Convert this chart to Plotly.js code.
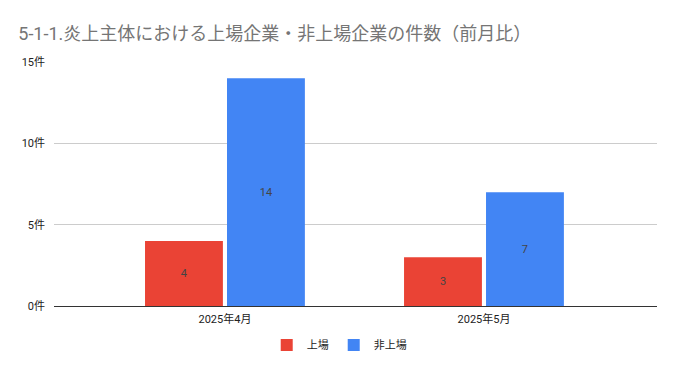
<!DOCTYPE html>
<html><head><meta charset="utf-8">
<script src="https://cdn.plot.ly/plotly-3.0.1.min.js"></script>
<style>body{margin:0;background:#fff}#c{width:677px;height:371px}</style>
</head><body><div id="c"></div>
<script>
const categories = ["2025年4月", "2025年5月"];
const listed = [4, 3];
const unlisted = [14, 7];
const seriesNames = ["上場", "非上場"];
const yTicks = [0, 5, 10, 15];
const yTickText = ["0件", "5件", "10件", "15件"];

const font = "Roboto, 'Noto Sans CJK JP', sans-serif";
const traces = [
  {type: "bar", name: seriesNames[0], x: categories, y: listed, marker: {color: "#EA4335"},
   text: listed.map(String), textposition: "inside", insidetextanchor: "middle",
   textfont: {color: "#444", size: 11, family: font}, hoverinfo: "none"},
  {type: "bar", name: seriesNames[1], x: categories, y: unlisted, marker: {color: "#4285F4"},
   text: unlisted.map(String), textposition: "inside", insidetextanchor: "middle",
   textfont: {color: "#444", size: 11, family: font}, hoverinfo: "none"}
];
const layout = {
  width: 677, height: 371,
  margin: {l: 54, r: 20, t: 62, b: 65},
  paper_bgcolor: "#fff", plot_bgcolor: "#fff",
  font: {family: font, color: "#222", size: 11},
  title: {text: "5-1-1.炎上主体における上場企業・非上場企業の件数（前月比）",
          font: {size: 18, color: "#757575", family: font}, x: 0.027, xanchor: "left", y: 0.91, yanchor: "middle"},
  barmode: "group", bargap: 0.367, bargroupgap: 0.05,
  xaxis: {type: "category", range: [-0.66, 1.668], showgrid: false, showline: false, ticks: "",
          tickfont: {size: 11, color: "#222"}, ticklabelstandoff: 5, fixedrange: true},
  yaxis: {range: [0, 15], tickmode: "array", tickvals: yTicks, ticktext: yTickText, showgrid: true, gridcolor: "#cccccc",
          zeroline: true, zerolinecolor: "#333", zerolinewidth: 1, showline: false, ticks: "",
          tickfont: {size: 11, color: "#222"}, ticklabelstandoff: 8},
  showlegend: true,
  legend: {orientation: "h", x: 0.473, xanchor: "center", y: -0.16, yanchor: "middle",
           font: {size: 11, color: "#222"}, itemwidth: 30}
};
Plotly.newPlot("c", traces, layout, {staticPlot: true});
</script></body></html>
